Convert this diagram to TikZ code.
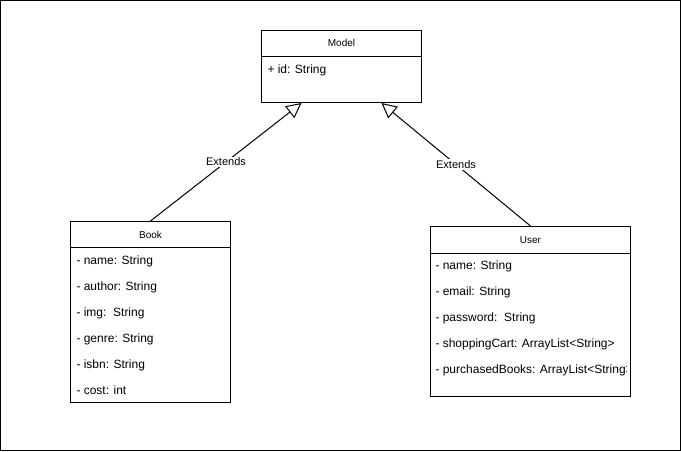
\documentclass[tikz,border=0pt]{standalone}
\usepackage{fontspec}
\setmainfont{Liberation Sans}
\usetikzlibrary{arrows.meta}

\begin{document}
\begin{tikzpicture}[x=1pt, y=-1pt, line width=1pt,
        classbox/.style={draw, rectangle, anchor=north west, inner sep=0pt},
        classtitle/.style={inner sep=0pt, font=\fontsize{10}{12}\selectfont},
        attr/.style={anchor=west, inner sep=0pt, text height=9pt, text depth=3pt,
                     font=\fontsize{12}{14}\selectfont},
        extends/.style={-{Triangle[open, length=15pt, width=15pt, fill=white]}},
        extlabel/.style={fill=white, inner sep=1pt, font=\fontsize{11}{13}\selectfont}]
        \useasboundingbox (0,0) rectangle (681,451);
        % Frame
        \draw (0.5,0.5) rectangle (680.5,450.5);

        % Model
        \node[classbox, minimum width=160pt, minimum height=72pt] (model) at (261,30) {};
        \draw ([yshift=-26pt]model.north west) -- ([yshift=-26pt]model.north east);
        \node[classtitle] (model-title) at ([yshift=-13pt]model.north) {Model};
        \node[attr] (model-1) at ([xshift=6pt, yshift=-40pt]model.north west) {+ id: String};

        % Book
        \node[classbox, minimum width=160pt, minimum height=181pt] (book) at (70,221) {};
        \draw ([yshift=-26pt]book.north west) -- ([yshift=-26pt]book.north east);
        \node[classtitle] (book-title) at ([yshift=-14pt]book.north) {Book};
        \foreach \attr [count=\i] in {{- name: String}, {- author: String}, {- img:\ \ String},
                                      {- genre: String}, {- isbn: String}, {- cost: int}}
            \node[attr] (book-\i) at ([xshift=6pt, yshift={-(14+26*\i)*1pt}]book.north west) {\attr};

        % User
        \node[classbox, minimum width=200pt, minimum height=170pt] (user) at (430,226) {};
        \draw ([yshift=-27pt]user.north west) -- ([yshift=-27pt]user.north east);
        \node[classtitle] (user-title) at ([yshift=-14pt]user.north) {User};
        \begin{scope}
            \clip ([xshift=1pt]user.north west) rectangle ([xshift=-5pt]user.south east);
            \foreach \attr [count=\i] in {{- name: String}, {- email: String}, {- password:\ \ String},
                                          {- shoppingCart: ArrayList<String>},
                                          {- purchasedBooks: ArrayList<String>}}
                \node[attr] (user-\i) at ([xshift=5pt, yshift={-(14+26*\i)*1pt}]user.north west) {\attr};
        \end{scope}

        % Inheritance
        \draw[extends] (book.north) -- node[extlabel] {Extends} ([xshift=-40pt]model.south);
        \draw[extends] (user.north) -- node[extlabel] {Extends} ([xshift=40pt]model.south);
\end{tikzpicture}
\end{document}
